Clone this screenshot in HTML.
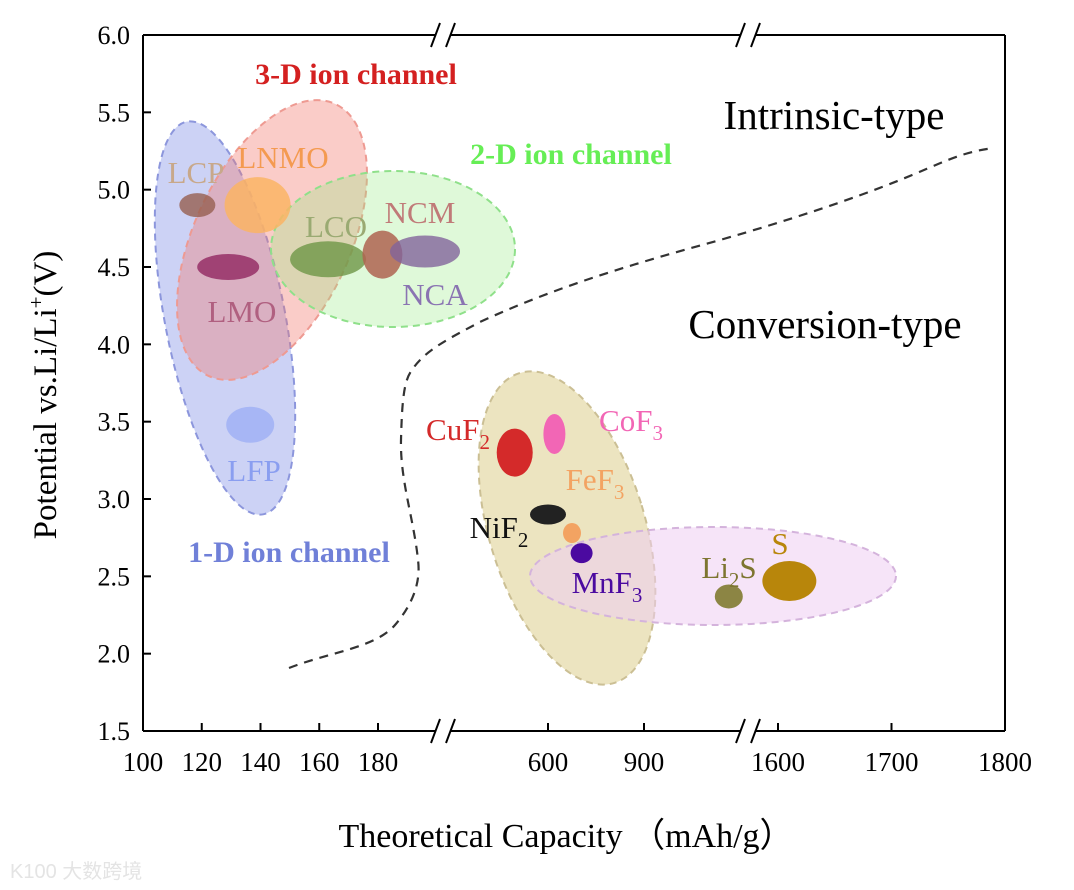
<!DOCTYPE html>
<html><head><meta charset="utf-8">
<style>
html,body{margin:0;padding:0;background:#fff;}
svg{display:block;font-family:"Liberation Serif",serif;}
</style></head>
<body>
<svg id="chart" width="1074" height="890" viewBox="0 0 1074 890" xmlns="http://www.w3.org/2000/svg">
<g id="regions"></g>
<g id="marks"></g>
<g id="axes"></g>
<g id="labels"></g>
</svg>
<script>
// ---- data ----
const yTicks = [1.5, 2.0, 2.5, 3.0, 3.5, 4.0, 4.5, 5.0, 5.5, 6.0];
const xTicks = [100, 120, 140, 160, 180, 600, 900, 1600, 1700, 1800];
const xTickLabels = ["100","120","140","160","180","600","900","1600","1700","1800"];
// materials: name, capacity (mAh/g), potential (V)
const matNames = ["LCP","LNMO","LMO","LFP","LCO","NCM","NCA","CuF2","CoF3","NiF2","FeF3","MnF3","Li2S","S"];
const matCapacity = [118.5, 139, 129, 136.5, 163, 181.5, 196, 496, 620, 600, 675, 705, 1165, 1610];
const matPotential = [4.9, 4.9, 4.5, 3.48, 4.55, 4.58, 4.6, 3.3, 3.42, 2.9, 2.78, 2.65, 2.37, 2.47];
const matColors = ["rgba(150,95,80,0.8)","rgba(250,180,100,0.85)","rgba(140,30,90,0.75)","rgba(160,178,245,0.85)","rgba(110,150,70,0.8)","rgba(175,100,80,0.85)","rgba(130,100,155,0.8)","#d42a2a","#f266b5","#222222","#f3a362","#4b0aa0","#8c8544","#b8860b"];
const matRx = [18,33,31,24,38,20,35,18,11,18,9,11,14,27];
const matRy = [12,28,13,18,18,24,16,24,20,10,10,10,12,20];

// ---- scales ----
const X0=143, X1=1005, Y0=731, Y1=35;
function y(v){ return Y0 - (v-1.5)/(6.0-1.5)*(Y0-Y1); }
function x(v){
  if (v <= 210) return 143 + (v-100)*(378-143)/80;
  if (v <= 1300) return 548 + (v-600)*(644-548)/300;
  return 778 + (v-1600)*(1005-778)/200;
}
const NS="http://www.w3.org/2000/svg";
function mk(tag, attrs, parent){ const e=document.createElementNS(NS,tag); for(const k in attrs) e.setAttribute(k,attrs[k]); parent.appendChild(e); return e; }

// ---- region ellipses ----
const regions = document.getElementById('regions');
const regDefs = [
  ["one-d-region",225,318,60,200,-11,"rgba(110,125,225,0.35)","#8c96dc"],
  ["three-d-region",272,240,78,150,25,"rgba(242,120,110,0.38)","#ee9a92"],
  ["two-d-region",393,249,122,78,0,"rgba(150,235,130,0.3)","#8fe08a"],
  ["fluoride-region",567,528,78,162,-17,"rgba(220,205,140,0.55)","#cbbf94"],
  ["sulfur-region",713,576,183,49,0,"rgba(238,205,242,0.55)","#d4b3dc"]
];
regDefs.forEach(r=>{
  const e=mk('ellipse',{cx:r[1],cy:r[2],rx:r[3],ry:r[4],transform:`rotate(${r[5]} ${r[1]} ${r[2]})`,fill:r[6],stroke:r[7],'stroke-width':2,'stroke-dasharray':'7 5'},regions);
  
  
});
const curve=mk('path',{d:"M289,668 C330,652 375,648 395,625 C418,598 420,575 418,560 C414,520 400,480 401,440 C402,400 404,380 412,370 C425,350 450,338 480,322 C560,285 640,262 720,240 C790,220 850,200 900,180 C940,164 960,152 994,148",fill:"none",stroke:"#333",'stroke-width':2.2,'stroke-dasharray':'9 7'},regions);



// ---- material marks ----
const marks=document.getElementById('marks');
matNames.forEach((n,i)=>{
  const e=mk('ellipse',{cx:x(matCapacity[i]),cy:y(matPotential[i]),rx:matRx[i],ry:matRy[i],fill:matColors[i]},marks);
  
  
});

// ---- axes ----
const axes=document.getElementById('axes');
function line(x1,y1,x2,y2,w,nm){ const e=mk('line',{x1,y1,x2,y2,stroke:'#000','stroke-width':w||2},axes);   return e; }
line(X0,Y1,X0,Y0,2,'y-axis');
line(X1,Y1,X1,Y0,2,'right-frame');
const breaks=[443,748];
[Y0,Y1].forEach(yy=>{
  line(X0,yy,breaks[0]-8,yy,2,'x-frame-segment');
  line(breaks[0]+8,yy,breaks[1]-8,yy,2,'x-frame-segment');
  line(breaks[1]+8,yy,X1,yy,2,'x-frame-segment');
  breaks.forEach(b=>{ line(b-12,yy+12,b-3,yy-12,2,'axis-break-mark'); line(b+3,yy+12,b+12,yy-12,2,'axis-break-mark'); });
});
yTicks.forEach(v=>{
  line(X0,y(v),X0+8,y(v),2,'y-tick');
  const t=mk('text',{x:X0-13,y:y(v)+9,'text-anchor':'end','font-size':26},axes); t.textContent=v.toFixed(1);
  
  
});
xTicks.forEach((v,i)=>{
  line(x(v),Y0,x(v),Y0-8,2,'x-tick');
  const t=mk('text',{x:x(v),y:Y0+40,'text-anchor':'middle','font-size':27},axes); t.textContent=xTickLabels[i];
  
  
});
</script>
<svg style="position:absolute;left:0;top:0" width="1074" height="890">
<g font-family="Liberation Serif, serif">
<text x="566" y="847" text-anchor="middle" font-size="34">Theoretical Capacity <tspan font-family="Noto Sans CJK SC, sans-serif">（</tspan>mAh/g<tspan font-family="Noto Sans CJK SC, sans-serif">）</tspan></text>
<text transform="translate(56,395) rotate(-90)" text-anchor="middle" font-size="33">Potential vs.Li/Li<tspan dy="-13" font-size="21">+</tspan><tspan dy="13">(V)</tspan></text>
<text x="356" y="84" text-anchor="middle" font-size="30" font-weight="bold" fill="#d42020">3-D ion channel</text>
<text x="571" y="164" text-anchor="middle" font-size="30" font-weight="bold" fill="#66ee55">2-D ion channel</text>
<text x="289" y="562" text-anchor="middle" font-size="30" font-weight="bold" fill="#7080d8">1-D ion channel</text>
<text x="834" y="129" text-anchor="middle" font-size="41">Intrinsic-type</text>
<text x="825" y="338" text-anchor="middle" font-size="41">Conversion-type</text>
<g font-size="31">
<text x="196" y="183" text-anchor="middle" fill="#c8a88a">LCP</text>
<text x="283" y="168" text-anchor="middle" fill="#f49a50">LNMO</text>
<text x="242" y="322" text-anchor="middle" fill="#b06080">LMO</text>
<text x="254" y="481" text-anchor="middle" fill="#8a9ef0">LFP</text>
<text x="336" y="237" text-anchor="middle" fill="#9aaa72">LCO</text>
<text x="420" y="223" text-anchor="middle" fill="#c07a78">NCM</text>
<text x="435" y="305" text-anchor="middle" fill="#8a74b2">NCA</text>
<text x="458" y="440" text-anchor="middle" fill="#d42a2a">CuF<tspan dy="9" font-size="21">2</tspan></text>
<text x="631" y="431" text-anchor="middle" fill="#f266b5">CoF<tspan dy="9" font-size="21">3</tspan></text>
<text x="595" y="490" text-anchor="middle" fill="#f3a362">FeF<tspan dy="9" font-size="21">3</tspan></text>
<text x="499" y="538" text-anchor="middle" fill="#111">NiF<tspan dy="9" font-size="21">2</tspan></text>
<text x="607" y="593" text-anchor="middle" fill="#4b0aa0">MnF<tspan dy="9" font-size="21">3</tspan></text>
<text x="729" y="578" text-anchor="middle" fill="#7d7530">Li<tspan dy="9" font-size="21">2</tspan><tspan dy="-9">S</tspan></text>
<text x="780" y="554" text-anchor="middle" fill="#b8860b">S</text>
</g>
<text x="10" y="878" font-size="20" fill="#e4e4e4" font-family="Liberation Sans, Noto Sans CJK SC, sans-serif">K100 大数跨境</text>
</g>
</svg>
</body></html>
